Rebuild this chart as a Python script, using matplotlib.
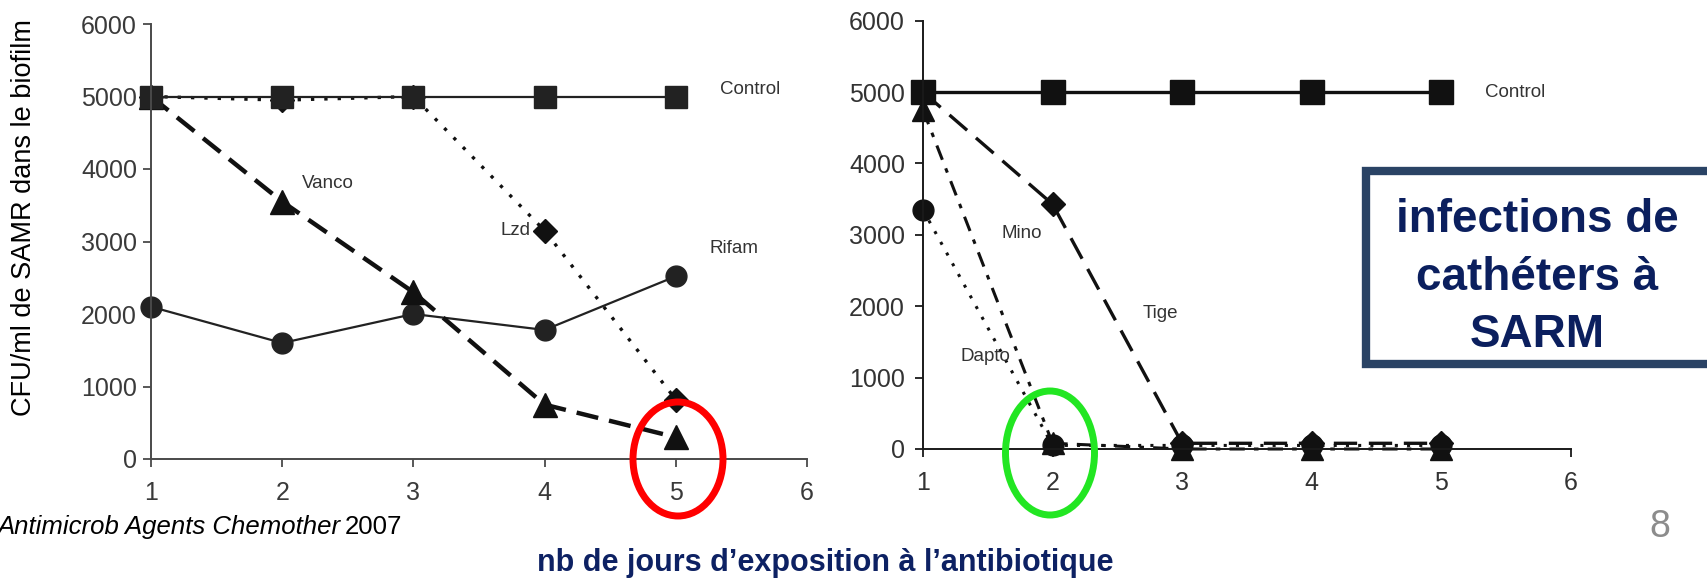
import matplotlib
matplotlib.use("Agg")
import matplotlib.pyplot as plt
from matplotlib.patches import Ellipse, Rectangle

plt.rcParams["font.family"] = ["Liberation Sans", "DejaVu Sans"]

# données
days = [1, 2, 3, 4, 5]
x_ticks = [1, 2, 3, 4, 5, 6]
y_ticks = [0, 1000, 2000, 3000, 4000, 5000, 6000]

left_control = [5000, 5000, 5000, 5000, 5000]
left_rifam = [2100, 1600, 2000, 1780, 2520]
left_vanco = [5000, 3550, 2300, 750, 300]
left_lzd = [5000, 4950, 5000, 3150, 820]

right_control = [5000, 5000, 5000, 5000, 5000]
right_tige = [5000, 3430, 80, 80, 80]
right_mino = [4750, 80, 0, 0, 0]
right_dapto = [3350, 50, 50, 50, 50]

W, H = 1707, 579
fig = plt.figure(figsize=(W / 100, H / 100), dpi=100)


def style_axes(ax, spine_col, lab_col, ypad):
    for s in ("top", "right"):
        ax.spines[s].set_visible(False)
    for s in ("left", "bottom"):
        ax.spines[s].set_color(spine_col)
        ax.spines[s].set_linewidth(1.4)
    ax.set_xlim(1, 6)
    ax.set_ylim(0, 6000)
    ax.set_xticks(x_ticks)
    ax.set_yticks(y_ticks)
    ax.tick_params(axis="y", direction="out", length=6, width=1.3, colors=spine_col,
                   labelcolor=lab_col, labelsize=18, pad=ypad)
    ax.tick_params(axis="x", direction="out", length=6, width=1.3, colors=spine_col,
                   labelcolor=lab_col, labelsize=18, pad=10)
    ax.patch.set_alpha(0)


# graphique de gauche
axl = fig.add_axes([151 / W, 1 - 459 / H, 656 / W, 435 / H])
style_axes(axl, "#4a4a4a", "#3a3a3a", 4)
axl.plot(days, left_rifam, color="#222222", lw=1.6, marker="o", ms=15, clip_on=False)
axl.plot(days, left_vanco, color="#111111", lw=3.2, dashes=(5, 2.5), marker="^", ms=17,
         clip_on=False)
axl.plot(days, left_lzd, color="#111111", lw=2.4, dashes=(1, 3), marker="D", ms=12,
         clip_on=False)
axl.plot(days, left_control, color="#222222", lw=1.6, marker="s", ms=16, clip_on=False)
lab = dict(fontsize=13.5, color="#333333", va="center")
axl.text(2.35, 3800, "Vanco", ha="center", **lab)
axl.text(3.89, 3150, "Lzd", ha="right", **lab)
axl.text(5.44, 2910, "Rifam", ha="center", **lab)
axl.text(5.34, 5090, "Control", ha="left", **lab)

# graphique de droite
axr = fig.add_axes([923 / W, 1 - 449 / H, 647.7 / W, 428.3 / H])
style_axes(axr, "#1a1a1a", "#333333", 7)
axr.plot(days, right_dapto, color="#111111", lw=2.2, dashes=(1, 3), marker="o", ms=15,
         clip_on=False)
axr.plot(days, right_mino, color="#111111", lw=2.2, dashes=(5, 3, 1.5, 3), marker="^", ms=16,
         clip_on=False)
axr.plot(days, right_tige, color="#111111", lw=2.4, dashes=(7, 3.5), marker="D", ms=12,
         clip_on=False)
axr.plot(days, right_control, color="#111111", lw=2.4, marker="s", ms=17, clip_on=False)
axr.text(5.34, 5000, "Control", ha="left", **lab)
axr.text(1.76, 3025, "Mino", ha="center", **lab)
axr.text(2.83, 1905, "Tige", ha="center", **lab)
axr.text(1.48, 1300, "Dapto", ha="center", **lab)

# textes de la diapositive
fig.text(24 / W, 1 - 218 / H, "CFU/ml de SAMR dans le biofilm", rotation=90,
         ha="center", va="center", fontsize=19.5, color="black")
cite = fig.text(-3 / W, 1 - 527 / H, "Antimicrob Agents Chemother", ha="left", va="center",
                fontsize=18.5, fontstyle="italic", color="black")
fig.canvas.draw()
bb = cite.get_window_extent()
fig.text((bb.x1 + 5) / W, 1 - 527 / H, "2007", ha="left", va="center", fontsize=18.5,
         color="black")
fig.text(825 / W, 1 - 563 / H, "nb de jours d\u2019exposition à l\u2019antibiotique",
         ha="center", va="center", fontsize=22, fontweight="bold", color="#0d2163")
fig.text(1660 / W, 1 - 527 / H, "8", ha="center", va="center", fontsize=27, color="#8c8c8c")

# calque d'annotation (cadre + ellipses)
ov = fig.add_axes([0, 0, 1, 1], zorder=10)
ov.set_xlim(0, W)
ov.set_ylim(H, 0)
ov.axis("off")
ov.patch.set_alpha(0)
ov.add_patch(Rectangle((1366, 171), 400, 193, lw=6, edgecolor="#2a4365", facecolor="white"))
box_txt = dict(ha="center", va="baseline", fontsize=33, fontweight="bold", color="#0b1f5e")
ov.text(1537, 232, "infections de", **box_txt)
ov.text(1537, 290, "cathéters à", **box_txt)
ov.text(1537, 347, "SARM", **box_txt)
ov.add_patch(Ellipse((678, 459), 90, 114, lw=5, edgecolor="#ff0000", facecolor="none"))
ov.add_patch(Ellipse((1050, 453), 89, 124, lw=5, edgecolor="#22e622", facecolor="none"))

fig.savefig("out.png", dpi=100)
